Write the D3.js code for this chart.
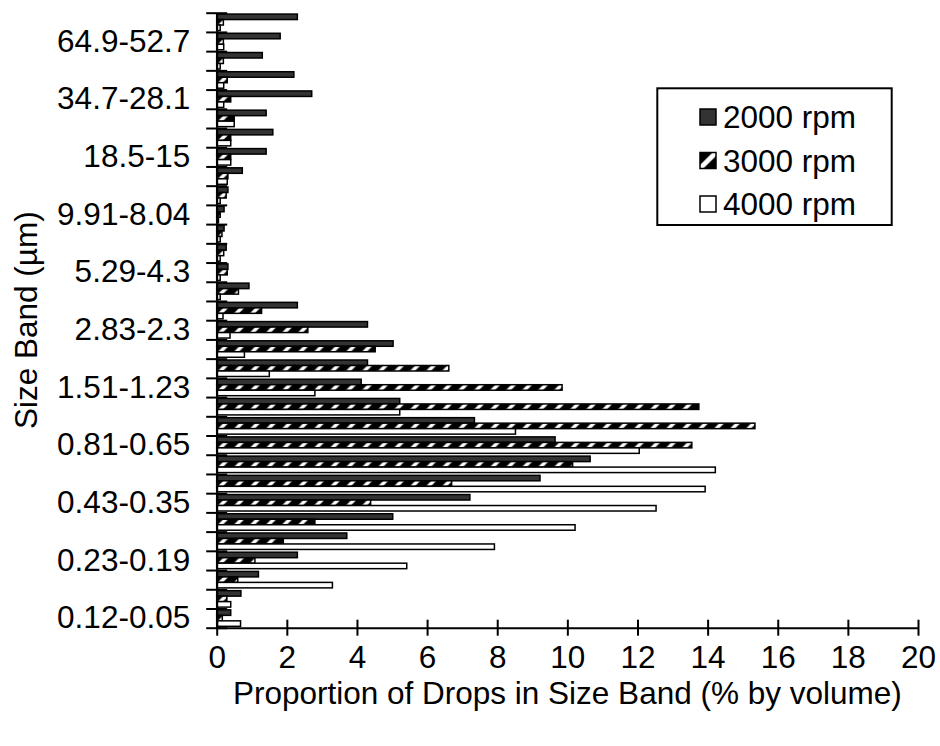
<!DOCTYPE html>
<meta charset="utf-8">
<style>
  body { margin: 0; background: #fff; }
  svg text { font-family: "Liberation Sans", Arial, sans-serif; font-size: 31.5px; fill: #000; }
</style>
<div id="chart"></div>

<script src="https://d3js.org/d3.v7.min.js"></script>
<script>

// size bands (um), smallest first = bottom of the chart
const sizeBands = ["0.12-0.05", "0.15-0.12", "0.19-0.15", "0.23-0.19", "0.28-0.23", "0.35-0.28",
  "0.43-0.35", "0.53-0.43", "0.65-0.53", "0.81-0.65", "0.99-0.81", "1.23-0.99", "1.51-1.23",
  "1.86-1.51", "2.3-1.86", "2.83-2.3", "3.49-2.83", "4.3-3.49", "5.29-4.3", "6.52-5.29",
  "8.04-6.52", "9.91-8.04", "12.2-9.91", "15-12.2", "18.5-15", "22.8-18.5", "28.1-22.8",
  "34.7-28.1", "42.7-34.7", "52.7-42.7", "64.9-52.7", "80-64.9"];

// only every third band gets a label on the axis
const labelledBands = ["0.12-0.05", "0.23-0.19", "0.43-0.35", "0.81-0.65", "1.51-1.23",
  "2.83-2.3", "5.29-4.3", "9.91-8.04", "18.5-15", "34.7-28.1", "64.9-52.7"];

const series = ["2000 rpm", "3000 rpm", "4000 rpm"];

// % by volume in each band, same order as sizeBands
const rpm2000 = [0.4, 0.69, 1.19, 2.3, 3.71, 5.02, 7.22, 9.22, 10.65, 9.65, 7.35, 5.22, 4.12,
  4.3, 5.03, 4.3, 2.3, 0.92, 0.32, 0.27, 0.21, 0.21, 0.32, 0.73, 1.41, 1.6, 1.41, 2.71, 2.2,
  1.3, 1.81, 2.3];
const rpm3000 = [0.16, 0.29, 0.6, 1.09, 1.9, 2.8, 4.39, 6.7, 10.15, 13.55, 15.35, 13.75, 9.85,
  6.62, 4.52, 2.6, 1.28, 0.62, 0.3, 0.2, 0.15, 0.1, 0.27, 0.32, 0.4, 0.4, 0.5, 0.4, 0.3,
  0.19, 0.19, 0.19];
const rpm4000 = [0.68, 0.4, 3.3, 5.42, 7.92, 10.22, 12.53, 13.93, 14.22, 12.05, 8.52, 5.22,
  2.8, 1.5, 0.79, 0.38, 0.18, 0.1, 0.1, 0.1, 0.1, 0.05, 0.1, 0.3, 0.4, 0.4, 0.5, 0.2, 0.2,
  0.1, 0.2, 0.1];

const xTicks = [0, 2, 4, 6, 8, 10, 12, 14, 16, 18, 20];

const margin = {top: 12.7, right: 22, bottom: 118.3, left: 216.7},
    width = 940 - margin.left - margin.right,
    height = 746 - margin.top - margin.bottom;

const svg = d3.select("#chart")
  .append("svg")
    .attr("width", 940)
    .attr("height", 746);

// hatch for the 3000 rpm bars, and a one-stripe version for the key
const defs = svg.append("defs");
const hatch = defs.append("pattern")
    .attr("id", "hatch")
    .attr("patternUnits", "userSpaceOnUse")
    .attr("width", 16)
    .attr("height", 16);
hatch.append("rect").attr("width", 16).attr("height", 16).attr("fill", "#000");
hatch.selectAll("line")
  .data([[0, 16, 16, 0], [-4, 4, 4, -4], [12, 20, 20, 12]])
  .join("line")
    .attr("x1", d => d[0]).attr("y1", d => d[1])
    .attr("x2", d => d[2]).attr("y2", d => d[3])
    .attr("stroke", "#fff")
    .attr("stroke-width", 3.5);

const hatchKey = defs.append("pattern")
    .attr("id", "hatch-key")
    .attr("patternContentUnits", "objectBoundingBox")
    .attr("width", 1)
    .attr("height", 1);
hatchKey.append("rect").attr("width", 1).attr("height", 1).attr("fill", "#000");
hatchKey.append("line")
    .attr("x1", 0).attr("y1", 1).attr("x2", 1).attr("y2", 0)
    .attr("stroke", "#fff")
    .attr("stroke-width", 0.3);

const fills = d3.scaleOrdinal()
  .domain(series)
  .range(["#333333", "url(#hatch)", "#ffffff"]);
const keyFills = d3.scaleOrdinal()
  .domain(series)
  .range(["#333333", "url(#hatch-key)", "#ffffff"]);

const g = svg.append("g")
    .attr("transform", `translate(${margin.left},${margin.top})`);

const x = d3.scaleLinear()
  .domain([0, 20])
  .range([0, width]);

const y = d3.scaleBand()
  .domain(sizeBands.slice().reverse())
  .range([0, height]);

const ySub = d3.scaleBand()
  .domain(series)
  .range([0, y.bandwidth()])
  .paddingInner(0)
  .paddingOuter(0.25);

const rows = sizeBands.map((b, i) => ({
  band: b,
  values: [rpm2000[i], rpm3000[i], rpm4000[i]].map((v, j) => ({key: series[j], value: v}))
}));

// bars
g.selectAll("g.band")
  .data(rows)
  .join("g")
    .attr("class", "band")
    .attr("transform", d => `translate(0,${y(d.band)})`)
  .selectAll("rect")
  .data(d => d.values)
  .join("rect")
    .attr("x", 0)
    .attr("y", d => ySub(d.key))
    .attr("width", d => x(d.value))
    .attr("height", ySub.bandwidth())
    .attr("fill", d => fills(d.key))
    .attr("stroke", "#000")
    .attr("stroke-width", 1.5);

// y axis: cross ticks on the band edges
const edge = d3.scaleLinear()
  .domain([0, sizeBands.length])
  .range([height, 0]);
const yEdges = g.append("g")
  .call(d3.axisLeft(edge).tickValues(d3.range(sizeBands.length + 1)).tickFormat("").tickSize(10.5).tickSizeOuter(0));
yEdges.selectAll(".tick line").attr("x1", 10.5).attr("stroke-width", 2);
yEdges.select(".domain").attr("stroke-width", 2);

// y labels on the band centres
const yLabels = g.append("g")
  .call(d3.axisLeft(y).tickValues(labelledBands).tickSize(0).tickPadding(26.5));
yLabels.select(".domain").remove();
yLabels.selectAll("text").attr("font-size", null).attr("font-family", null);

// x axis
const xAxis = g.append("g")
  .attr("transform", `translate(0,${height})`)
  .call(d3.axisBottom(x).tickValues(xTicks).tickSize(8).tickSizeOuter(0));
xAxis.selectAll(".tick line").attr("y1", -8).attr("stroke-width", 2);
xAxis.select(".domain").attr("stroke-width", 2);
xAxis.selectAll("text")
  .attr("font-size", null).attr("font-family", null)
  .attr("y", 40.5).attr("dy", null);

// axis titles
svg.append("text")
  .attr("x", margin.left + width / 2)
  .attr("y", 704)
  .attr("text-anchor", "middle")
  .text("Proportion of Drops in Size Band (% by volume)");

svg.append("text")
  .attr("transform", `translate(37,${margin.top + height / 2}) rotate(-90)`)
  .attr("text-anchor", "middle")
  .text("Size Band (µm)");

// legend
const legend = svg.append("g");
legend.append("rect")
  .attr("x", 657.3).attr("y", 88.3)
  .attr("width", 234.4).attr("height", 136.7)
  .attr("fill", "#fff")
  .attr("stroke", "#000")
  .attr("stroke-width", 2);

const item = legend.selectAll("g.item")
  .data(series)
  .join("g")
    .attr("class", "item")
    .attr("transform", (d, i) => `translate(700,${117 + i * 43.5})`);
item.append("rect")
  .attr("x", 0).attr("y", -8)
  .attr("width", 16).attr("height", 16)
  .attr("fill", d => keyFills(d))
  .attr("stroke", "#000")
  .attr("stroke-width", 1.5);
item.append("text")
  .attr("x", 23)
  .attr("y", 11)
  .text(d => d);

</script>
